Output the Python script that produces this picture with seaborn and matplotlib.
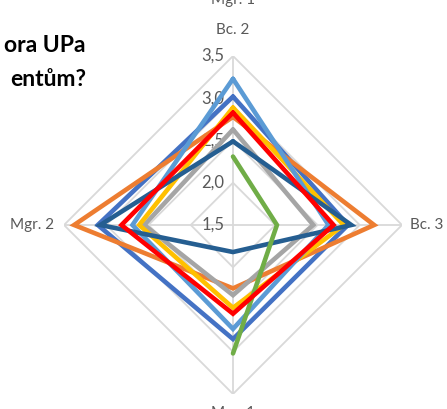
import numpy as np
import matplotlib.pyplot as plt
import seaborn as sns


categories = ['Bc. 2', 'Bc. 3', 'Mgr. 1', 'Mgr. 2']
ticks = [1.5, 2.0, 2.5, 3.0, 3.5]
tick_labels = ['1,5', '2,0', '2,5', '3,0', '3,5']

s_blue = [3.02, 2.86, 2.85, 3.10]
s_orange = [2.78, 3.17, 2.25, 3.38]
s_gray = [2.63, 2.45, 2.33, 2.55]
s_yellow = [2.89, 2.81, 2.48, 2.61]
s_lightblue = [3.23, 2.63, 2.73, 2.69]
s_navy = [2.49, 2.90, 1.82, 3.07]
s_green = [2.31, 2.02, 3.02, np.nan]
s_red = [2.83, 2.69, 2.55, 2.82]

series = [
    (s_blue, '#4472C4'),
    (s_orange, '#ED7D31'),
    (s_gray, '#A5A5A5'),
    (s_yellow, '#FFC000'),
    (s_lightblue, '#5B9BD5'),
    (s_navy, '#255E91'),
    (s_green, '#70AD47'),
    (s_red, '#FF0000'),
]


if __name__ == '__main__':

    sns.set_style('white')
    plt.rcParams['font.family'] = ['Lato', 'DejaVu Sans']

    fig = plt.figure(figsize=(4.47, 4.09), dpi=100)
    ax = fig.add_axes([64 / 447, 15 / 409, 338 / 447, 338 / 409], projection='polar')
    ax.set_theta_zero_location('N')
    ax.set_theta_direction(-1)

    angles = np.linspace(0, 2 * np.pi, len(categories), endpoint=False)
    ang_closed = np.append(angles, angles[0])

    # diamond grid + spokes
    grid_c = '#D9D9D9'
    for t in ticks[1:]:
        ax.plot(ang_closed, [t] * (len(categories) + 1), color=grid_c, lw=1.3, zorder=1)
    for a in angles:
        ax.plot([a, a], [ticks[0], ticks[-1]], color=grid_c, lw=1.3, zorder=1)

    for vals, col in series:
        v = np.append(vals, vals[0])
        ax.plot(ang_closed, v, color=col, lw=3.3, zorder=3, solid_joinstyle='miter')

    ax.set_ylim(ticks[0], ticks[-1])
    ax.grid(False)
    ax.spines['polar'].set_visible(False)
    ax.set_xticks([])
    ax.set_yticks([])
    ax.patch.set_alpha(0)

    txt_c = '#595959'
    for t, lbl in zip(ticks, tick_labels):
        ax.annotate(lbl, xy=(0, t), xytext=(-6, 0), textcoords='offset points',
                    ha='right', va='center', fontsize=12, color=txt_c, zorder=2)

    offsets = [(0, 14, 'center', 'bottom'), (6, 0, 'left', 'center'),
               (0, -8.5, 'center', 'top'), (-7, 0, 'right', 'center')]
    for a, name, (dx, dy, ha, va) in zip(angles, categories, offsets):
        ax.annotate(name, xy=(a, ticks[-1]), xytext=(dx, dy), textcoords='offset points',
                    ha=ha, va=va, fontsize=11, color=txt_c, annotation_clip=False)

    fig.text(233 / 447, 1.0, 'Mgr. 1', ha='center', va='center', fontsize=11, color=txt_c)

    fig.text(86 / 447, 1 - 45 / 409, 'ora UPa', ha='right', va='center',
             fontsize=16.5, fontweight='bold', color='black')
    fig.text(86 / 447, 1 - 79 / 409, 'entům?', ha='right', va='center',
             fontsize=16.5, fontweight='bold', color='black')

    plt.savefig('out.png', dpi=100)
